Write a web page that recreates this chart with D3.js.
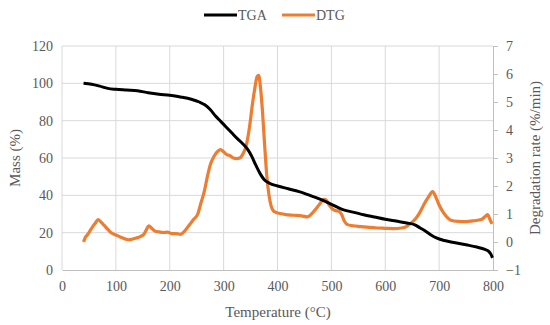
<!DOCTYPE html>
<html>
<head>
<meta charset="utf-8">
<script src="https://cdn.jsdelivr.net/npm/d3@7"></script>
<style>
  body { margin: 0; background: #fff; }
  svg { display: block; }
</style>
</head>
<body>
<svg width="550" height="325"></svg>
<script>
// temperature (°C) vs mass (%)
const tgaTemp = [40, 55, 70, 85, 100, 120, 140, 160, 180, 200, 220, 240, 255, 265, 275, 285, 295, 305, 315, 325, 335, 345, 352, 360, 368, 375, 385, 400, 420, 440, 460, 480, 500, 520, 540, 560, 580, 600, 620, 640, 655, 665, 675, 685, 695, 710, 730, 750, 770, 785, 792, 796, 799];
const tgaMass = [100, 99.5, 98.5, 97.3, 96.8, 96.4, 96.0, 95.0, 94.2, 93.6, 92.7, 91.5, 90, 88.5, 86, 82.5, 79.5, 76.5, 73.5, 70.5, 67.8, 64.5, 61, 56, 51.5, 48.5, 46.5, 45, 43.5, 42, 40, 37.8, 35.2, 32.5, 31, 29.6, 28.4, 27.2, 26.2, 25.2, 24.2, 22.5, 20.8, 18.8, 17.2, 15.8, 14.6, 13.5, 12.3, 11, 10, 8.5, 6.5];

// temperature (°C) vs degradation rate (%/min)
const dtgTemp = [40, 43, 47, 52, 57, 62, 67, 72, 78, 85, 92, 100, 108, 116, 124, 130, 138, 146, 152, 157, 161, 166, 172, 180, 188, 196, 204, 212, 220, 228, 236, 244, 252, 258, 264, 270, 276, 282, 288, 294, 300, 306, 312, 318, 324, 330, 336, 342, 348, 354, 358, 362, 365, 368, 372, 376, 380, 384, 388, 392, 398, 405, 415, 425, 435, 445, 455, 462, 470, 478, 486, 490, 496, 502, 508, 514, 519, 524, 530, 540, 555, 570, 585, 600, 615, 630, 640, 648, 656, 664, 672, 680, 688, 694, 700, 708, 715, 722, 735, 750, 765, 778, 786, 790, 794, 798];
const dtgRate = [0.0, 0.15, 0.25, 0.4, 0.55, 0.68, 0.8, 0.72, 0.6, 0.45, 0.32, 0.25, 0.18, 0.12, 0.08, 0.1, 0.14, 0.2, 0.28, 0.45, 0.58, 0.5, 0.4, 0.36, 0.34, 0.35, 0.3, 0.3, 0.27, 0.4, 0.6, 0.8, 1.0, 1.4, 1.8, 2.35, 2.8, 3.05, 3.22, 3.3, 3.22, 3.12, 3.08, 3.0, 2.98, 3.0, 3.15, 3.45, 4.1, 5.0, 5.5, 5.9, 5.95, 5.6, 4.7, 3.5, 2.4, 1.7, 1.3, 1.12, 1.05, 1.02, 0.98, 0.96, 0.95, 0.93, 0.9, 0.98, 1.15, 1.35, 1.52, 1.5, 1.32, 1.18, 1.12, 1.1, 0.98, 0.75, 0.62, 0.58, 0.55, 0.52, 0.5, 0.49, 0.48, 0.5, 0.56, 0.68, 0.82, 1.05, 1.35, 1.6, 1.8, 1.6, 1.32, 1.05, 0.88, 0.78, 0.74, 0.73, 0.76, 0.8, 0.92, 0.98, 0.82, 0.65];

const xTicks = [0, 100, 200, 300, 400, 500, 600, 700, 800];
const massTicks = [0, 20, 40, 60, 80, 100, 120];
const rateTicks = [-1, 0, 1, 2, 3, 4, 5, 6, 7];

const svg = d3.select('svg');
const plotLeft = 62, plotRight = 493, plotTop = 46, plotBottom = 270;
const textColor = '#595959';
const gridColor = '#d9d9d9';
const serif = 'Liberation Serif';

const x = d3.scaleLinear().domain([0, 800]).range([plotLeft, plotRight]);
const yMass = d3.scaleLinear().domain([0, 120]).range([plotBottom, plotTop]);
const yRate = d3.scaleLinear().domain([-1, 7]).range([plotBottom, plotTop]);

// grid
const grid = svg.append('g');
grid.selectAll('line.h')
  .data(massTicks.filter((d) => d > 0))
  .enter()
  .append('line')
  .attr('x1', plotLeft).attr('x2', plotRight)
  .attr('y1', (d) => yMass(d)).attr('y2', (d) => yMass(d))
  .attr('stroke', gridColor).attr('stroke-width', 1);
grid.selectAll('line.v')
  .data(xTicks.filter((d) => d < 800))
  .enter()
  .append('line')
  .attr('x1', (d) => x(d)).attr('x2', (d) => x(d))
  .attr('y1', plotTop).attr('y2', plotBottom)
  .attr('stroke', gridColor).attr('stroke-width', 1);

const styleTicks = (g) => {
  g.attr('font-family', serif).attr('font-size', 14);
  g.selectAll('text').attr('fill', textColor);
};

// bottom axis
const xAxis = svg.append('g')
  .attr('transform', `translate(0,${plotBottom})`)
  .call(d3.axisBottom(x).tickValues(xTicks).tickSize(0).tickPadding(11))
  .call(styleTicks);
xAxis.select('.domain').attr('stroke', '#bfbfbf');

// left axis
const yAxisL = svg.append('g')
  .attr('transform', `translate(${plotLeft},0)`)
  .call(d3.axisLeft(yMass).tickValues(massTicks).tickSize(0).tickPadding(9))
  .call(styleTicks);
yAxisL.select('.domain').remove();

// right axis
const yAxisR = svg.append('g')
  .attr('transform', `translate(${plotRight},0)`)
  .call(d3.axisRight(yRate).tickValues(rateTicks).tickSize(5).tickPadding(8).tickFormat(d3.format('d')))
  .call(styleTicks);
yAxisR.select('.domain').attr('stroke', '#bfbfbf');
yAxisR.selectAll('line').attr('stroke', '#bfbfbf');

// lines
const tga = tgaTemp.map((t, i) => [t, tgaMass[i]]);
const dtg = dtgTemp.map((t, i) => [t, dtgRate[i]]);

svg.append('path')
  .datum(dtg)
  .attr('fill', 'none')
  .attr('stroke', '#ed7d31')
  .attr('stroke-width', 3.2)
  .attr('stroke-linejoin', 'round')
  .attr('d', d3.line().x((d) => x(d[0])).y((d) => yRate(d[1])).curve(d3.curveMonotoneX));

svg.append('path')
  .datum(tga)
  .attr('fill', 'none')
  .attr('stroke', '#000')
  .attr('stroke-width', 3)
  .attr('stroke-linejoin', 'round')
  .attr('d', d3.line().x((d) => x(d[0])).y((d) => yMass(d[1])).curve(d3.curveMonotoneX));

// axis titles
svg.append('text')
  .attr('x', 278).attr('y', 317)
  .attr('text-anchor', 'middle')
  .attr('fill', textColor)
  .attr('font-family', serif)
  .attr('font-size', 15)
  .text('Temperature (°C)');

svg.append('text')
  .attr('transform', 'translate(20,158) rotate(-90)')
  .attr('text-anchor', 'middle')
  .attr('fill', textColor)
  .attr('font-family', serif)
  .attr('font-size', 15)
  .text('Mass (%)');

svg.append('text')
  .attr('transform', 'translate(540,158) rotate(-90)')
  .attr('text-anchor', 'middle')
  .attr('fill', textColor)
  .attr('font-family', serif)
  .attr('font-size', 15)
  .text('Degradation rate (%/min)');

// legend
const legend = [
  {name: 'TGA', color: '#000', x0: 204},
  {name: 'DTG', color: '#ed7d31', x0: 282},
];
const lg = svg.append('g').selectAll('g').data(legend).enter().append('g');
lg.append('line')
  .attr('x1', (d) => d.x0).attr('x2', (d) => d.x0 + 33)
  .attr('y1', 15).attr('y2', 15)
  .attr('stroke', (d) => d.color).attr('stroke-width', 3);
lg.append('text')
  .attr('x', (d) => d.x0 + 34).attr('y', 20)
  .attr('fill', textColor)
  .attr('font-family', serif)
  .attr('font-size', 14)
  .text((d) => d.name);
</script>
</body>
</html>
